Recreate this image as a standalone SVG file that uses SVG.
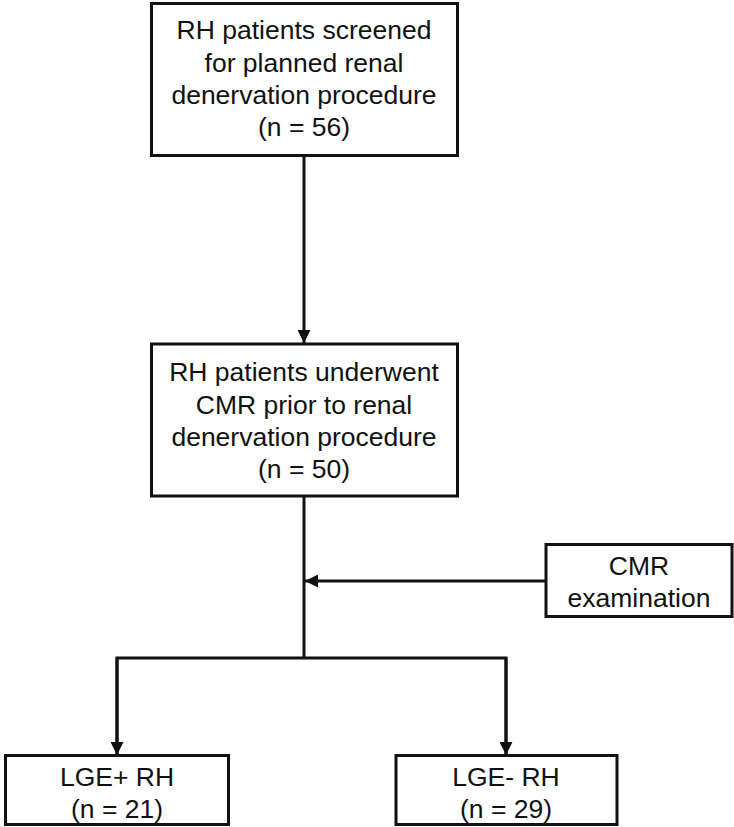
<svg xmlns="http://www.w3.org/2000/svg" width="734" height="827" viewBox="0 0 734 827">
<style>
.box{fill:#fff;stroke:#111;stroke-width:3}
.t{font-family:"Liberation Sans",Arial,sans-serif;font-size:26.5px;fill:#111;text-anchor:middle}
.c{fill:none;stroke:#111;stroke-width:3}
</style>
<defs>
<marker id="ah" markerUnits="userSpaceOnUse" markerWidth="13" markerHeight="13" refX="13" refY="6.5" orient="auto">
<path d="M0,0 L13,6.5 L0,13 z" fill="#111"/>
</marker>
</defs>
<rect width="734" height="827" fill="#fff"/>
<g id="connectors">
<line class="c" x1="304" y1="156" x2="304" y2="343" marker-end="url(#ah)"/>
<line class="c" x1="304" y1="497" x2="304" y2="658"/>
<line class="c" x1="546" y1="581" x2="305" y2="581" marker-end="url(#ah)"/>
<polyline class="c" points="117,755 117,658 506,658 506,755"/>
<line class="c" x1="117" y1="658" x2="117" y2="755" marker-end="url(#ah)"/>
<line class="c" x1="506" y1="658" x2="506" y2="755" marker-end="url(#ah)"/>
</g>
<g id="screened">
<rect class="box" x="151.5" y="3.5" width="306" height="152"/>
<text class="t" x="304" y="39">RH patients screened</text>
<text class="t" x="304" y="72">for planned renal</text>
<text class="t" x="304" y="104">denervation procedure</text>
<text class="t" x="304" y="136">(n = 56)</text>
</g>
<g id="underwent">
<rect class="box" x="151.5" y="344" width="306" height="152"/>
<text class="t" x="304" y="381">RH patients underwent</text>
<text class="t" x="304" y="414">CMR prior to renal</text>
<text class="t" x="304" y="446">denervation procedure</text>
<text class="t" x="304" y="478">(n = 50)</text>
</g>
<g id="cmr">
<rect class="box" x="546" y="544.5" width="186" height="72"/>
<text class="t" x="639" y="575">CMR</text>
<text class="t" x="639" y="607">examination</text>
</g>
<g id="lgepos">
<rect class="box" x="5.5" y="755.5" width="223" height="69"/>
<text class="t" x="117" y="786">LGE+ RH</text>
<text class="t" x="117" y="818">(n = 21)</text>
</g>
<g id="lgeneg">
<rect class="box" x="396" y="755.5" width="221" height="69"/>
<text class="t" x="506" y="786">LGE- RH</text>
<text class="t" x="506" y="818">(n = 29)</text>
</g>
</svg>
